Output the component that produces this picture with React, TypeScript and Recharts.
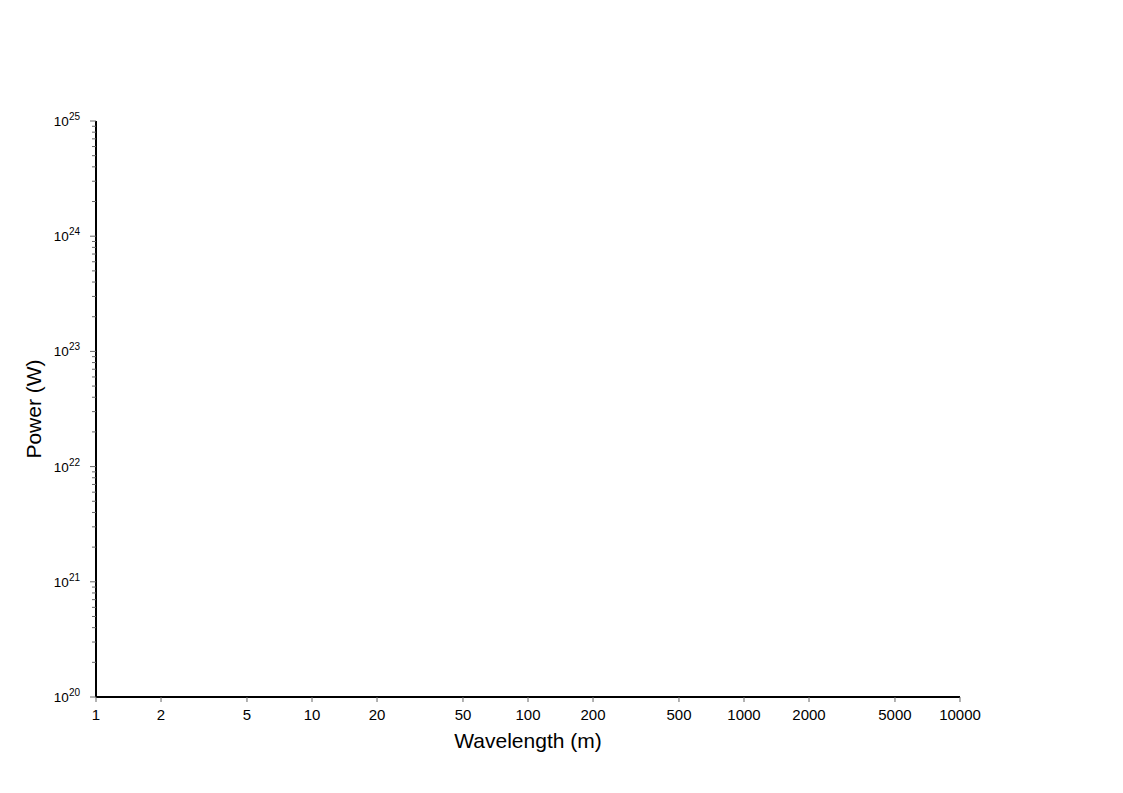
import React from 'react';
import { LineChart, XAxis, YAxis } from 'recharts';

// wavelength ticks (m) and power decades (W)
const xTicks = [1, 2, 5, 10, 20, 50, 100, 200, 500, 1000, 2000, 5000, 10000];
const yExponents = [20, 21, 22, 23, 24, 25];
const yMinorMultipliers = [2, 3, 4, 5, 6, 7, 8, 9];

const yTicks: number[] = [];
yExponents.forEach((e, i) => {
  yTicks.push(Math.pow(10, e));
  if (i < yExponents.length - 1) {
    yMinorMultipliers.forEach((m) => yTicks.push(m * Math.pow(10, e)));
  }
});

const FONT = '"Liberation Sans", Arial, Helvetica, sans-serif';

const isDecade = (v: number) => {
  const l = Math.log10(v);
  return Math.abs(l - Math.round(l)) < 1e-9;
};

const XTick = ({ x, y, payload }: any) => (
  <g>
    <line x1={x} y1={y} x2={x} y2={y + 5} stroke="#666" strokeWidth={1} />
    <text x={x} y={y + 23} textAnchor="middle" fontSize={15} fontFamily={FONT} fill="#000">
      {payload.value}
    </text>
  </g>
);

const YTick = ({ x, y, payload }: any) => {
  const v = payload.value;
  if (!isDecade(v)) {
    return <line x1={x - 4} y1={y} x2={x} y2={y} stroke="#666" strokeWidth={1} />;
  }
  const exp = Math.round(Math.log10(v));
  return (
    <g>
      <line x1={x - 6} y1={y} x2={x} y2={y} stroke="#666" strokeWidth={1} />
      <text x={x - 16} y={y + 5} textAnchor="end" fontSize={13.5} fontFamily={FONT} fill="#000">
        10
        <tspan dy={-6} fontSize={10}>
          {exp}
        </tspan>
      </text>
    </g>
  );
};

const XTitle = ({ viewBox }: any) => (
  <text
    x={viewBox.x + viewBox.width / 2}
    y={viewBox.y + 51}
    textAnchor="middle"
    fontSize={21}
    fontFamily={FONT}
    fill="#000"
  >
    Wavelength (m)
  </text>
);

const YTitle = ({ viewBox }: any) => {
  const cx = viewBox.x + 41;
  const cy = viewBox.y + viewBox.height / 2;
  return (
    <text
      x={cx}
      y={cy}
      transform={`rotate(-90, ${cx}, ${cy})`}
      textAnchor="middle"
      fontSize={21}
      fontFamily={FONT}
      fill="#000"
    >
      Power (W)
    </text>
  );
};

export default function App() {
  return (
    <div style={{ position: 'absolute', left: 0, top: 0, background: '#fff' }}>
      <LineChart width={1123} height={793} margin={{ top: 121, right: 163, left: 0, bottom: 0 }}>
        <XAxis
          type="number"
          dataKey="x"
          scale="log"
          domain={[1, 10000]}
          allowDataOverflow
          ticks={xTicks}
          interval={0}
          tick={<XTick />}
          tickLine={false}
          tickSize={0}
          tickMargin={0}
          height={96}
          axisLine={{ stroke: '#000', strokeWidth: 2 }}
          label={{ content: <XTitle /> }}
        />
        <YAxis
          type="number"
          dataKey="y"
          scale="log"
          domain={[1e20, 1e25]}
          allowDataOverflow
          ticks={yTicks}
          interval={0}
          tick={<YTick />}
          tickLine={false}
          tickSize={0}
          tickMargin={0}
          width={96}
          axisLine={{ stroke: '#000', strokeWidth: 2 }}
          label={{ content: <YTitle /> }}
        />
      </LineChart>
    </div>
  );
}
